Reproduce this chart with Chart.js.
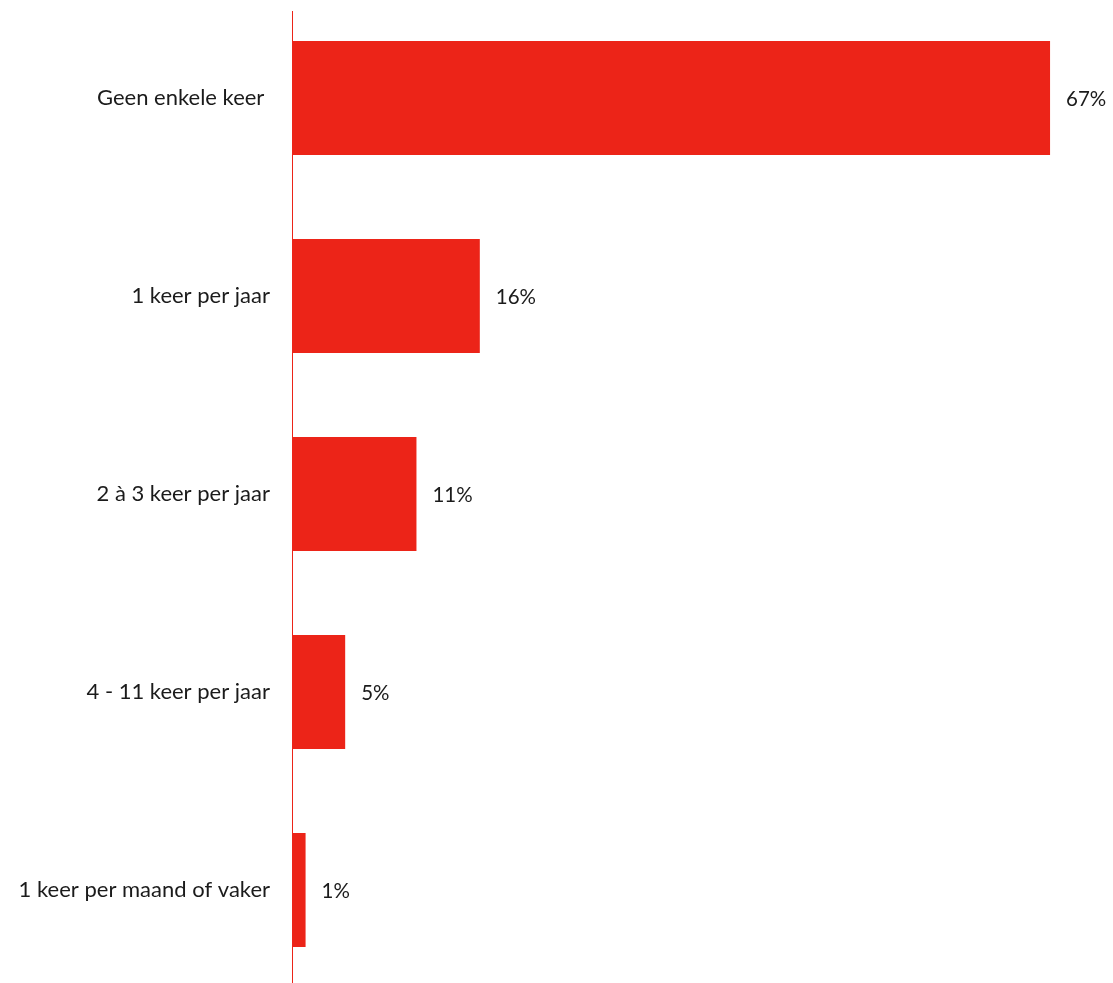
<!DOCTYPE html>
<html lang="nl">
<head>
  <meta charset="UTF-8">
  <title>Frequentie</title>
  <script src="https://cdn.jsdelivr.net/npm/chart.js@4.4.1/dist/chart.umd.min.js"></script>
  <style>
    html, body { margin: 0; padding: 0; overflow: hidden; background: #fff; }
    .chart-container { position: relative; top: -1px; width: 1113px; height: 990px; }
  </style>
</head>
<body>
  <div class="chart-container">
    <canvas id="chart"></canvas>
  </div>

<script>
  const categories = ['Geen enkele keer ', '1 keer per jaar', '2 à 3 keer per jaar', '4 - 11 keer per jaar', '1 keer per maand of vaker'];
  const values = [67, 16.6, 11.0, 4.7, 1.2];
  const valueLabels = ['67%', '16%', '11%', '5%', '1%'];

  const red = '#EC2418';
  const textColor = '#1b1b1b';
  const fontFamily = 'Lato, "Liberation Sans", sans-serif';

  // percentage next to each bar
  const valueLabelPlugin = {
    id: 'valueLabels',
    afterDatasetsDraw(chart) {
      const ctx = chart.ctx;
      const meta = chart.getDatasetMeta(0);
      ctx.save();
      ctx.font = '20.5px ' + fontFamily;
      ctx.fillStyle = textColor;
      ctx.textAlign = 'left';
      ctx.textBaseline = 'middle';
      meta.data.forEach((bar, i) => {
        ctx.fillText(valueLabels[i], bar.x + 16, bar.y + 1);
      });
      ctx.restore();
    }
  };

  // thin vertical axis line, starts a bit below the top
  const axisLinePlugin = {
    id: 'axisLine',
    afterDatasetsDraw(chart) {
      const ctx = chart.ctx;
      const x = chart.chartArea.left + 0.5;
      ctx.save();
      ctx.strokeStyle = red;
      ctx.lineWidth = 1;
      ctx.beginPath();
      ctx.moveTo(x, chart.chartArea.top + 12);
      ctx.lineTo(x, chart.chartArea.bottom);
      ctx.stroke();
      ctx.restore();
    }
  };

  const ctx = document.getElementById('chart').getContext('2d');
  const myChart = new Chart(ctx, {
    type: 'bar',
    data: {
      labels: categories,
      datasets: [{
        data: values,
        backgroundColor: red,
        borderWidth: 0,
        barPercentage: 1,
        categoryPercentage: 0.576
      }]
    },
    options: {
      indexAxis: 'y',
      responsive: true,
      maintainAspectRatio: false,
      animation: false,
      layout: { padding: { top: 0, right: 29, bottom: 0, left: 0 } },
      plugins: {
        legend: { display: false },
        tooltip: { enabled: false }
      },
      scales: {
        x: {
          display: false,
          min: 0,
          max: 70
        },
        y: {
          grid: { display: false, drawTicks: false },
          border: { display: false },
          ticks: {
            color: textColor,
            font: { family: fontFamily, size: 22 },
            padding: 22
          },
          afterFit(scale) {
            scale.width = 292;
            scale.paddingTop = 0;
            scale.paddingBottom = 0;
          }
        }
      }
    },
    plugins: [valueLabelPlugin, axisLinePlugin]
  });
</script>
</body>
</html>
